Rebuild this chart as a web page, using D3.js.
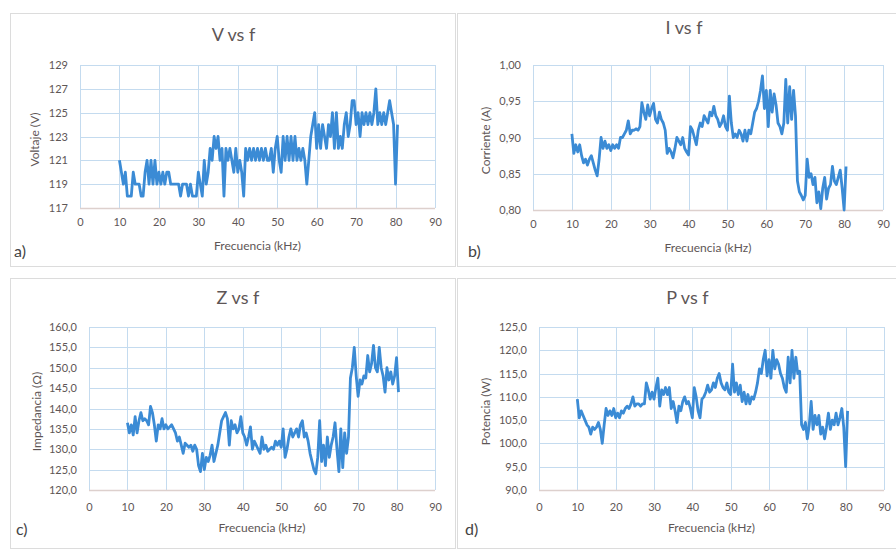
<!DOCTYPE html>
<html>
<head>
<meta charset="utf-8">
<script src="https://cdn.jsdelivr.net/npm/d3@7"></script>
<style>
  body { margin: 0; background: #fff; }
  svg { display: block; font-family: Lato, "Open Sans", sans-serif; }
</style>
</head>
<body>
<svg id="chart" width="896" height="552"></svg>
<script>
// frequency (kHz), shared by the four plots
const freq = [
  10, 10.5, 11, 11.5, 12, 12.5, 13, 13.5, 14, 14.5,
  15, 15.5, 16, 16.5, 17, 17.5, 18, 18.5, 19, 19.5,
  20, 20.5, 21, 21.5, 22, 22.5, 23, 23.5, 24, 24.5,
  25, 25.5, 26, 26.5, 27, 27.5, 28, 28.5, 29, 29.5,
  30, 30.5, 31, 31.5, 32, 32.5, 33, 33.5, 34, 34.5,
  35, 35.5, 36, 36.5, 37, 37.5, 38, 38.5, 39, 39.5,
  40, 40.5, 41, 41.5, 42, 42.5, 43, 43.5, 44, 44.5,
  45, 45.5, 46, 46.5, 47, 47.5, 48, 48.5, 49, 49.5,
  50, 50.5, 51, 51.5, 52, 52.5, 53, 53.5, 54, 54.5,
  55, 55.5, 56, 56.5, 57, 57.5, 58, 58.5, 59, 59.5,
  60, 60.5, 61, 61.5, 62, 62.5, 63, 63.5, 64, 64.5,
  65, 65.5, 66, 66.5, 67, 67.5, 68, 68.5, 69, 69.5,
  70, 70.5, 71, 71.5, 72, 72.5, 73, 73.5, 74, 74.5,
  75, 75.5, 76, 76.5, 77, 77.5, 78, 78.5, 79, 79.5,
  80, 80.5
];

const voltage = [
  121, 120, 119, 120, 118, 118, 118, 120, 119, 119,
  119, 118, 118, 120, 121, 119, 121, 119, 121, 119,
  120, 119, 120, 119, 120, 120, 119, 119, 119, 119,
  119, 118, 119, 119, 119, 118, 119, 118, 118, 118,
  120, 119, 118, 121, 119, 120, 122, 121, 123, 122,
  123, 121, 122, 118, 122, 121, 122, 121, 120, 122,
  120, 121, 120, 118, 122, 121, 122, 121, 122, 121,
  122, 121, 122, 121, 122, 121, 121, 122, 120, 122,
  123, 121, 120, 123, 121, 123, 121, 123, 121, 123,
  121, 122, 121, 122, 121, 119, 121, 123, 124, 125,
  122, 124, 122, 124, 123, 122, 124, 123, 125, 122,
  125, 122, 123, 122, 124, 125, 123, 124, 126, 126,
  124, 125, 123, 125, 124, 125, 124, 125, 124, 125,
  127, 124, 125, 124, 125, 124, 125, 126, 125, 124,
  119, 124
];

const current = [
  0.905, 0.878, 0.89, 0.88, 0.89, 0.875, 0.865, 0.87, 0.862, 0.87,
  0.875, 0.865, 0.855, 0.847, 0.87, 0.9, 0.885, 0.895, 0.885, 0.89,
  0.882, 0.89, 0.885, 0.89, 0.885, 0.9, 0.9, 0.905, 0.91, 0.923,
  0.905, 0.91, 0.91, 0.912, 0.91, 0.915, 0.948, 0.935, 0.925, 0.945,
  0.93, 0.94, 0.947, 0.925, 0.92, 0.935, 0.925, 0.92, 0.91, 0.878,
  0.885, 0.88, 0.872, 0.885, 0.9, 0.895, 0.89, 0.9, 0.885, 0.88,
  0.876, 0.915, 0.91, 0.9, 0.89, 0.91, 0.92, 0.915, 0.93, 0.925,
  0.92, 0.935, 0.93, 0.943, 0.93, 0.925, 0.915, 0.92, 0.93, 0.915,
  0.91, 0.957, 0.92, 0.9, 0.905, 0.9, 0.91, 0.905, 0.895, 0.91,
  0.895, 0.91, 0.905, 0.92, 0.935, 0.94, 0.95, 0.965, 0.985, 0.94,
  0.965, 0.915, 0.965, 0.935, 0.96, 0.945, 0.92, 0.915, 0.905, 0.92,
  0.98, 0.92, 0.97, 0.925, 0.965, 0.93, 0.84, 0.825, 0.82, 0.814,
  0.82, 0.87, 0.845, 0.85, 0.835, 0.845, 0.81, 0.825, 0.802, 0.83,
  0.845, 0.815, 0.83, 0.835, 0.86, 0.84, 0.835, 0.845, 0.855, 0.83,
  0.80, 0.86
];

const impedance = [
  136.5, 134, 136, 133.5, 138, 134, 137, 139, 137, 137.5,
  137, 136, 140.5, 139, 136, 132, 136, 135, 137.5, 135,
  136, 135, 135.5, 136, 135, 134, 132, 133, 131, 129,
  131.5, 131, 130.5, 131, 129.5, 131, 130, 126, 124.5, 129,
  125, 128, 127, 128.5, 131, 127, 129, 131, 134, 137,
  138, 139, 137.5, 131, 137, 135, 136, 134, 135, 138,
  134, 133, 131, 133, 135.5, 130, 132, 131, 130, 129,
  133, 130, 131, 129.5, 130, 130.5, 130, 132, 131, 132,
  130.5, 135, 128, 130, 133, 135, 133, 134, 135, 133,
  136, 137, 133, 134, 132, 129, 127, 125, 124, 128,
  137, 127, 131, 126, 133, 128, 131, 133, 136.5, 130,
  124.5, 135, 125.5, 134, 129, 133, 147.5, 150, 155, 148,
  143, 147, 146, 148, 147.5, 153, 149, 151, 155.5, 150,
  149, 155, 150, 148, 144, 150, 147, 149, 146, 148,
  152.5, 144
];

const power = [
  109.5, 105.5, 107, 106, 105, 104, 103.5, 102, 103.5, 103,
  103.5, 104.5, 103, 100, 104, 107.5, 106, 107, 106, 107.5,
  105.5, 106.5, 105.5, 107, 106.5, 107.5, 108, 107.5, 108.5, 110,
  108, 108.5, 108.5, 108, 108.5, 108.5, 113, 111.5, 109.5, 111,
  109.5, 112, 114, 108, 111.5, 110.5, 112, 110.5, 112, 107.5,
  109, 107, 104.5, 108, 107, 109, 110, 108.5, 109, 107.5,
  105.5, 112, 110, 107, 105.5, 109.5, 110, 111, 112.5, 111,
  111.5, 113, 112, 114, 115, 113, 112, 111.5, 113, 111,
  110.5, 117, 111, 113, 110.5, 112.5, 109, 111, 108.5, 110.5,
  108.5, 110, 109.5, 111, 113, 116, 115, 118, 120, 114.5,
  118, 114, 120, 116, 118, 117, 115, 114, 112, 111,
  118.5, 113, 120, 114, 118.5, 115, 115.5, 104, 103, 104.5,
  101, 104, 109, 103, 106, 104, 106, 102, 103.5, 101,
  103.5, 106.5, 103, 105, 104, 106.5, 104, 105.5, 107.5, 103.5,
  95, 107
];

// tick labels
const xTicks = [0, 10, 20, 30, 40, 50, 60, 70, 80, 90];
const vTicks = [117, 119, 121, 123, 125, 127, 129];
const iTicks = [0.80, 0.85, 0.90, 0.95, 1.00];
const zTicks = [120, 125, 130, 135, 140, 145, 150, 155, 160];
const pTicks = [90, 95, 100, 105, 110, 115, 120, 125];

const es = d3.formatLocale({ decimal: ",", thousands: ".", grouping: [3], currency: ["", ""] });

const panels = [
  { title: "V vs f", yLabel: "Voltaje (V)", tag: "a)", values: voltage, ticks: vTicks, fmt: es.format("d"),
    frame: [10, 13, 445, 253], x0: 80, x1: 435, yt: 65, yb: 208, titleY: 41, xPad: 10, tagX: 14, tagY: 257, yLabX: 39 },
  { title: "I vs f", yLabel: "Corriente (A)", tag: "b)", values: current, ticks: iTicks, fmt: es.format(".2f"),
    frame: [457, 13, 439, 253], x0: 533, x1: 883, yt: 65, yb: 210, titleY: 34, xPad: 10, tagX: 468, tagY: 257, yLabX: 490 },
  { title: "Z vs f", yLabel: "Impedancia (\u03A9)", tag: "c)", values: impedance, ticks: zTicks, fmt: es.format(".1f"),
    frame: [10, 278, 445, 270], x0: 89, x1: 435, yt: 327, yb: 490, titleY: 304, xPad: 13, tagX: 16, tagY: 535, yLabX: 41 },
  { title: "P vs f", yLabel: "Potencia (W)", tag: "d)", values: power, ticks: pTicks, fmt: es.format(".1f"),
    frame: [457, 278, 439, 270], x0: 539, x1: 884, yt: 327, yb: 490, titleY: 304, xPad: 13, tagX: 465, tagY: 535, yLabX: 490 }
];

const textColor = "#5e5656";
const gridColor = "#c4dbef";
const lineColor = "#3b8bd5";

const svg = d3.select("#chart");

const drawPanel = (p) => {
  const g = svg.append("g");

  // panel frame
  g.append("rect")
    .attr("x", p.frame[0] + 0.5)
    .attr("y", p.frame[1] + 0.5)
    .attr("width", p.frame[2])
    .attr("height", p.frame[3])
    .attr("fill", "none")
    .attr("stroke", "#dcdcdc");

  const x = d3.scaleLinear().domain([0, 90]).range([p.x0, p.x1]);
  const y = d3.scaleLinear()
    .domain([p.ticks[0], p.ticks[p.ticks.length - 1]])
    .range([p.yb, p.yt]);

  // grid
  g.selectAll(".vgrid")
    .data(xTicks)
    .enter()
    .append("line")
    .attr("x1", (d) => Math.round(x(d)) + 0.5)
    .attr("x2", (d) => Math.round(x(d)) + 0.5)
    .attr("y1", p.yt)
    .attr("y2", p.yb)
    .attr("stroke", gridColor);

  g.selectAll(".hgrid")
    .data(p.ticks)
    .enter()
    .append("line")
    .attr("x1", p.x0)
    .attr("x2", p.x1)
    .attr("y1", (d) => Math.round(y(d)) + 0.5)
    .attr("y2", (d) => Math.round(y(d)) + 0.5)
    .attr("stroke", gridColor);

  // bottom axis line
  g.append("line")
    .attr("x1", p.x0)
    .attr("x2", p.x1)
    .attr("y1", Math.round(p.yb) + 0.5)
    .attr("y2", Math.round(p.yb) + 0.5)
    .attr("stroke", "#ddd0cd")
    .attr("stroke-width", 1.5);

  // axes (labels only)
  const xAxis = g.append("g")
    .attr("transform", `translate(0, ${p.yb})`)
    .call(d3.axisBottom(x).tickValues(xTicks).tickSize(0).tickPadding(p.xPad));
  const yAxis = g.append("g")
    .attr("transform", `translate(${p.x0}, 0)`)
    .call(d3.axisLeft(y).tickValues(p.ticks).tickFormat(p.fmt).tickSize(0).tickPadding(12));
  [xAxis, yAxis].forEach((a) => {
    a.select(".domain").remove();
    a.selectAll("text")
      .attr("fill", textColor)
      .style("font-size", "11px")
      .style("font-family", "Lato, 'Open Sans', sans-serif");
  });

  // series
  const line = d3.line()
    .x((d, i) => x(freq[i]))
    .y((d) => y(d));

  g.append("path")
    .datum(p.values)
    .attr("d", line)
    .attr("fill", "none")
    .attr("stroke", lineColor)
    .attr("stroke-width", 2.8)
    .attr("stroke-linejoin", "round");

  // title
  g.append("text")
    .attr("x", (p.x0 + p.x1) / 2 - 24)
    .attr("y", p.titleY)
    .attr("text-anchor", "middle")
    .attr("fill", textColor)
    .style("font-size", "18px")
    .text(p.title);

  // x-axis header
  g.append("text")
    .attr("x", (p.x0 + p.x1) / 2)
    .attr("y", p.yb + 42)
    .attr("text-anchor", "middle")
    .attr("fill", textColor)
    .style("font-size", "12px")
    .text("Frecuencia (kHz)");

  // y-axis header
  g.append("text")
    .attr("transform", `translate(${p.yLabX}, ${(p.yt + p.yb) / 2 + 3}) rotate(-90)`)
    .attr("text-anchor", "middle")
    .attr("fill", textColor)
    .style("font-size", "12px")
    .text(p.yLabel);

  // panel tag
  g.append("text")
    .attr("x", p.tagX)
    .attr("y", p.tagY)
    .attr("fill", "#444")
    .style("font-size", "16px")
    .text(p.tag);
};

panels.forEach(drawPanel);
</script>
</body>
</html>
